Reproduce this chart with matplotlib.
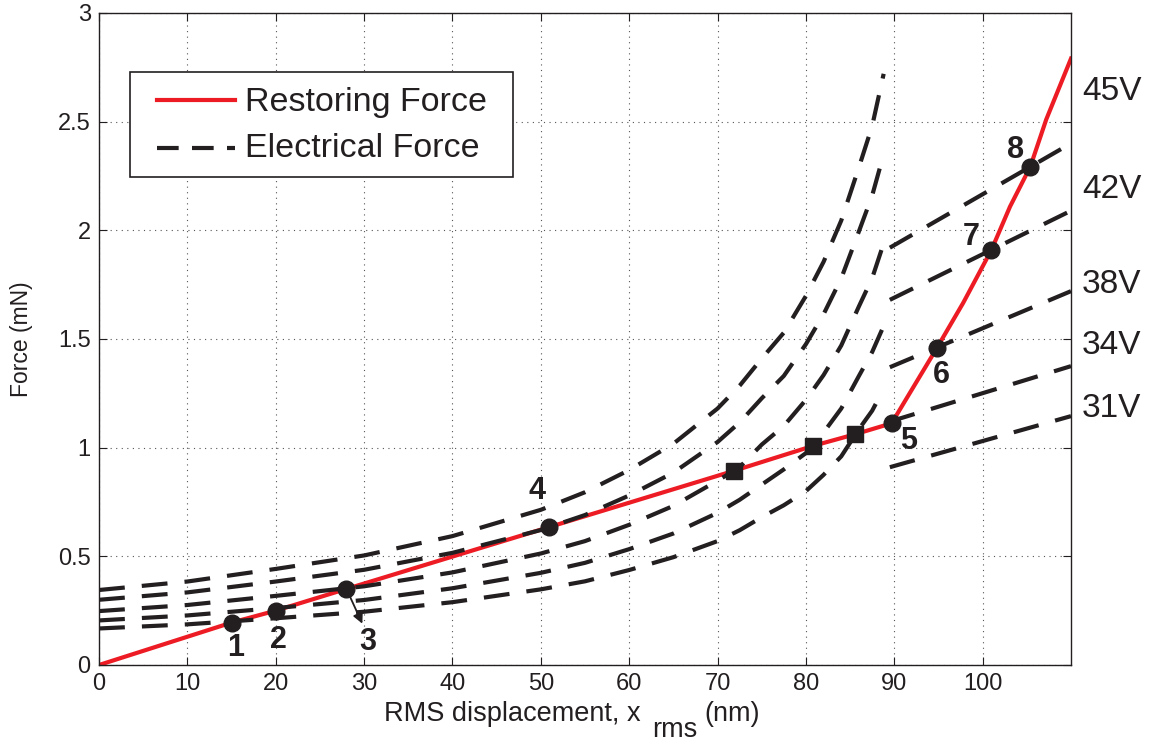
import numpy as np
import matplotlib
matplotlib.use("Agg")
import matplotlib.pyplot as plt
from matplotlib.patches import Rectangle

plt.rcParams['font.family'] = ['Liberation Sans', 'DejaVu Sans']

# restoring force (red line)
x_rest = [0, 15, 20, 28, 50.9, 71.9, 80.8, 85.6, 89.7, 94.8, 97.8, 101, 103.1, 105.4, 107.2, 110]
f_rest = [0, 0.195, 0.25, 0.35, 0.634, 0.894, 1.008, 1.062, 1.112, 1.457, 1.666, 1.91, 2.109, 2.293, 2.51, 2.79]

# electrical force, left branch
x_elec = [0, 10, 20, 30, 40, 50, 55, 60, 65, 70, 72.5, 75, 77.5, 80, 82, 84, 86, 87.5, 88.8]
e45 = [0.345, 0.384, 0.442, 0.504, 0.593, 0.714, 0.795, 0.897, 1.018, 1.18, 1.285, 1.41, 1.529, 1.698, 1.855, 2.045, 2.29, 2.48, 2.72]
e42 = [0.300, 0.334, 0.384, 0.438, 0.516, 0.621, 0.69, 0.78, 0.885, 1.026, 1.116, 1.227, 1.33, 1.476, 1.614, 1.779, 1.995, 2.16, 2.35]
e38 = [0.248, 0.276, 0.318, 0.362, 0.426, 0.513, 0.570, 0.645, 0.732, 0.848, 0.91, 1.014, 1.10, 1.22, 1.334, 1.47, 1.65, 1.78, 1.94]
e34 = [0.205, 0.228, 0.262, 0.299, 0.353, 0.424, 0.47, 0.533, 0.605, 0.70, 0.76, 0.83, 0.90, 0.975, 1.07, 1.18, 1.33, 1.44, 1.56]
e31 = [0.168, 0.187, 0.215, 0.245, 0.289, 0.348, 0.385, 0.437, 0.496, 0.57, 0.62, 0.68, 0.735, 0.80, 0.875, 0.96, 1.085, 1.17, 1.27]

# electrical force, right branch
x_right = [89.5, 110]
r45 = [1.92, 2.40]
r42 = [1.68, 2.09]
r38 = [1.37, 1.72]
r34 = [1.12, 1.375]
r31 = [0.91, 1.145]

volt_labels = ['45V', '42V', '38V', '34V', '31V']
volt_label_y = [2.64, 2.19, 1.75, 1.47, 1.18]

# marked points
pt_x = [15, 20, 28, 50.9, 89.7, 94.8, 101, 105.4]
pt_y = [0.195, 0.25, 0.35, 0.634, 1.112, 1.457, 1.91, 2.293]
pt_names = ['1', '2', '3', '4', '5', '6', '7', '8']
pt_text_x = [15.5, 20.3, 30.4, 49.6, 91.6, 95.3, 98.7, 103.7]
pt_text_y = [0.08, 0.115, 0.105, 0.80, 1.03, 1.335, 1.97, 2.37]
sq_x = [71.9, 80.8, 85.6]
sq_y = [0.894, 1.008, 1.062]

red = '#ED1C24'
blk = '#231F20'
dash = (6.2, 4.1)

fig = plt.figure(figsize=(11.49, 7.45), dpi=100)
ax = fig.add_axes([0.0862, 0.1074, 0.8459, 0.8752])

ax.plot(x_rest, f_rest, color=red, lw=3, zorder=2)

for e in [e45, e42, e38, e34, e31]:
    ln, = ax.plot(x_elec, e, color=blk, lw=3, zorder=3)
    ln.set_dashes(dash)
for r in [r45, r42, r38, r34, r31]:
    ln, = ax.plot(x_right, r, color=blk, lw=3, zorder=3)
    ln.set_dashes(dash)

ax.plot(pt_x, pt_y, 'o', color=blk, ms=12, zorder=5)
ax.plot(sq_x, sq_y, 's', color=blk, ms=11.5, zorder=5)

# numbers next to the points, 3 has a little arrow
for i in range(len(pt_names)):
    ax.text(pt_text_x[i], pt_text_y[i], pt_names[i], ha='center', va='center',
            fontsize=22, fontweight='bold', color=blk, zorder=6)
ax.annotate('', xy=(29.8, 0.19), xytext=(28, 0.35),
            arrowprops=dict(arrowstyle='-|>', color=blk, lw=1.3, mutation_scale=15,
                            shrinkA=0, shrinkB=0), zorder=6)

for lab, yy in zip(volt_labels, volt_label_y):
    ax.text(114.6, yy, lab, ha='center', va='center', fontsize=24, color=blk, clip_on=False)

ax.set_xlim(0, 110)
ax.set_ylim(0, 3)
ax.set_xticks(np.arange(0, 101, 10))
ax.set_yticks(np.arange(0, 3.01, 0.5))
ax.set_yticklabels(['0', '0.5', '1', '1.5', '2', '2.5', '3'])
ax.tick_params(direction='in', top=True, right=True, labelsize=17, length=6, colors=blk)
ax.tick_params(axis='x', pad=6)
ax.tick_params(axis='y', pad=6)
ax.grid(True, linestyle=(0, (1, 4)), color='#555555', lw=0.8)
for s in ax.spines.values():
    s.set_linewidth(1.0)
    s.set_color(blk)

# x label in pieces so the subscript keeps full size
fig.text(384 / 1149, 1 - 721 / 745, 'RMS displacement, x', fontsize=19.5, color=blk,
         ha='left', va='baseline')
fig.text(652 / 1149, 1 - 737 / 745, 'rms', fontsize=19.5, color=blk, ha='left', va='baseline')
fig.text(760 / 1149, 1 - 721 / 745, '(nm)', fontsize=19.5, color=blk, ha='right', va='baseline')
ax.set_ylabel('Force (mN)', fontsize=16.5, color=blk, labelpad=18)

# legend box drawn by hand (axes fraction)
ax.add_patch(Rectangle((0.0319, 0.7485), 0.3935, 0.161, transform=ax.transAxes,
                       facecolor='white', edgecolor=blk, lw=1.2, zorder=7))
ax.plot([0.0597, 0.1399], [0.866, 0.866], transform=ax.transAxes, color=red, lw=3, zorder=8)
ln, = ax.plot([0.0597, 0.1399], [0.793, 0.793], transform=ax.transAxes, color=blk, lw=3, zorder=8)
ln.set_dashes((5.2, 3.2))
ax.text(0.150, 0.8497, 'Restoring Force', transform=ax.transAxes, fontsize=24.5,
        color=blk, va='baseline', ha='left', zorder=8)
ax.text(0.150, 0.7796, 'Electrical Force', transform=ax.transAxes, fontsize=24.5,
        color=blk, va='baseline', ha='left', zorder=8)

fig.savefig('out.png', dpi=100)
